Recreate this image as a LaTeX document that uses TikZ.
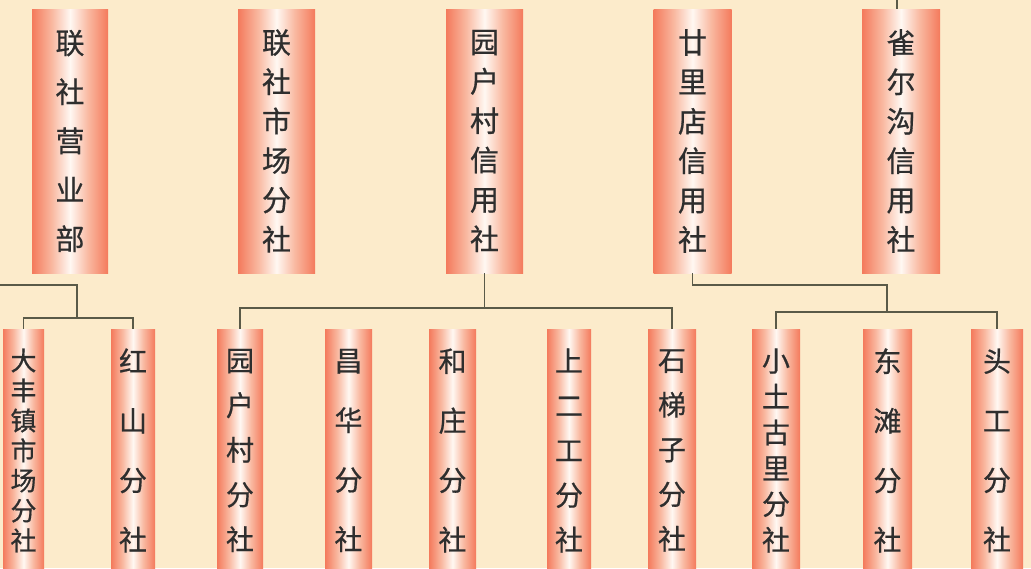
\documentclass[tikz,border=0pt]{standalone}
\usepackage{fontspec}
\newfontfamily\cjk[FakeBold=0.6]{Noto Sans CJK SC}
\definecolor{bg}{HTML}{FCEBCB}
\definecolor{barc}{HTML}{F47A5C}
\definecolor{barm}{HTML}{F9B8A0}
\definecolor{barw}{HTML}{FFF8F2}
\definecolor{lnc}{HTML}{5A5A48}
\definecolor{txt}{HTML}{2E2E2E}
\pgfdeclarehorizontalshading{bar}{100bp}{color(0bp)=(barc); color(25bp)=(barc); color(38bp)=(barm); color(50bp)=(barw); color(62bp)=(barm); color(75bp)=(barc); color(100bp)=(barc)}
\tikzset{
  colbox/.style={rectangle, shade, shading=bar, inner sep=0pt, align=center, text=txt},
  topbox/.style={colbox, minimum height=264pt, font=\cjk\fontsize{29}{#1}\selectfont},
  botbox/.style={colbox, minimum height=243pt, font=\cjk\fontsize{28}{#1}\selectfont},
  conn/.style={draw=lnc, line width=1.3pt}
}
\begin{document}
\begin{tikzpicture}[x=1pt,y=-1pt]
\useasboundingbox (0,0) rectangle (1031,568);
\fill[bg] (0,0) rectangle (1031,568);
% top row
\node[topbox=49, minimum width=76pt] (t1) at (70,141) {联\\社\\营\\业\\部};
\node[topbox=39.4, minimum width=77pt] (t2) at (276.5,141) {联\\社\\市\\场\\分\\社};
\node[topbox=39.4, minimum width=77pt] (t3) at (484.5,141) {园\\户\\村\\信\\用\\社};
\node[topbox=39.4, minimum width=78pt] (t4) at (692.5,141) {廿\\里\\店\\信\\用\\社};
\node[topbox=39.4, minimum width=78pt] (t5) at (901,141) {雀\\尔\\沟\\信\\用\\社};
% bottom row
\node[botbox=30, minimum width=41pt, font=\cjk\fontsize{26}{30}\selectfont] (b1) at (23.5,450.5) {大\\丰\\镇\\市\\场\\分\\社};
\node[botbox=59.5, minimum width=44pt] (b2) at (133,450.5) {红\\山\\分\\社};
\node[botbox=44.7, minimum width=46pt] (b3) at (240,450.5) {园\\户\\村\\分\\社};
\node[botbox=59.5, minimum width=47pt] (b4) at (348.5,450.5) {昌\\华\\分\\社};
\node[botbox=59.5, minimum width=47pt] (b5) at (452.5,450.5) {和\\庄\\分\\社};
\node[botbox=44.7, minimum width=44pt] (b6) at (569,450.5) {上\\二\\工\\分\\社};
\node[botbox=44.7, minimum width=48pt] (b7) at (672,450.5) {石\\梯\\子\\分\\社};
\node[botbox=35.8, minimum width=48pt] (b8) at (776,450.5) {小\\土\\古\\里\\分\\社};
\node[botbox=59.5, minimum width=49pt] (b9) at (887.5,450.5) {东\\滩\\分\\社};
\node[botbox=59.5, minimum width=52pt] (b10) at (997,450.5) {头\\工\\分\\社};
% connectors
\coordinate (lstart) at (0,285);
\coordinate (jl) at (77,318);
\draw[conn] (lstart) -| (jl);
\draw[conn] (b1.north) |- (jl) -| (b2.north);
\coordinate (jm) at (484.5,308);
\draw[conn] (t3.south) -- (jm);
\draw[conn] (b3.north) |- (jm) -| (b7.north);
\coordinate (jr1) at (887,285);
\coordinate (jr2) at (887,312);
\draw[conn] (t4.south) |- (jr1) -- (jr2);
\draw[conn] (b8.north) |- (jr2) -| (b10.north);
\coordinate (tend) at (897,0);
\draw[conn] ([xshift=-4pt]t5.north) -- (tend);
\end{tikzpicture}
\end{document}
